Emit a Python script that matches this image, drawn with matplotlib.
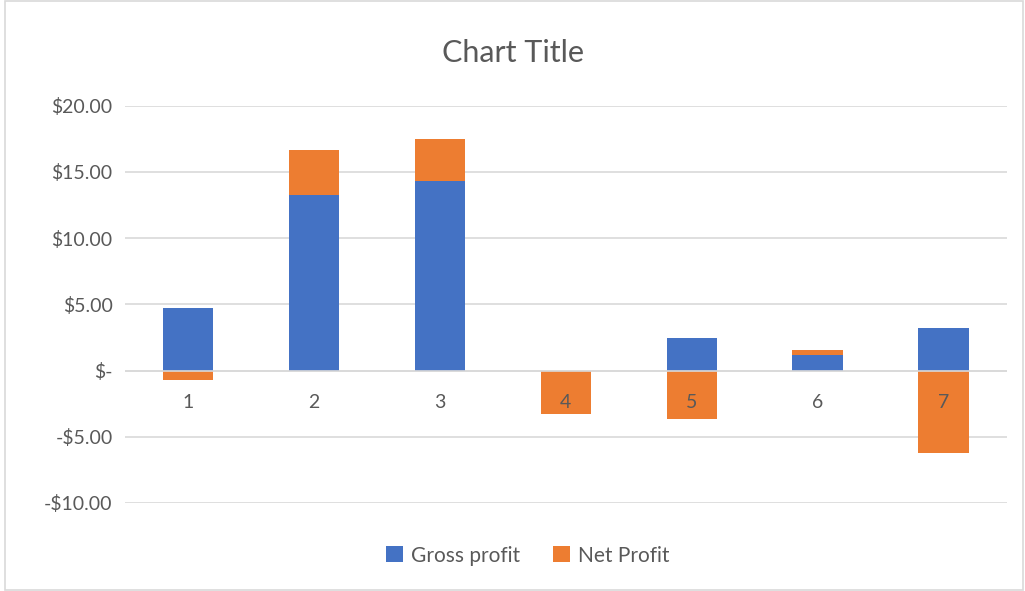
import numpy as np
import matplotlib
matplotlib.use("Agg")
from matplotlib import pyplot as plt
from matplotlib.patches import Rectangle
from matplotlib.ticker import FuncFormatter

categories = ["1", "2", "3", "4", "5", "6", "7"]
gross_profit = [4.75, 13.25, 14.3, 0.0, 2.45, 1.15, 3.25]
net_profit = [-0.75, 3.4, 3.2, -3.25, -3.65, 0.38, -6.2]

blue = "#4472C4"
orange = "#ED7D31"
grey_text = "#595959"
grid_col = "#D9D9D9"

plt.rcParams['font.family'] = ['Lato', 'DejaVu Sans']

fig = plt.figure(figsize=(10.25, 5.91), dpi=100)
ax = fig.add_axes([0.122, 0.149, 0.860, 0.672])

x = np.arange(len(categories))
gross = np.array(gross_profit)
net = np.array(net_profit)

# excel style stacking: positives on positives, negatives on negatives
pos_base = np.where(gross > 0, gross, 0)
neg_base = np.where(gross < 0, gross, 0)
net_bottom = np.where(net >= 0, pos_base, neg_base)

ax.bar(x, gross, width=0.4, color=blue, label="Gross profit", zorder=2)
ax.bar(x, net, width=0.4, bottom=net_bottom, color=orange, label="Net Profit", zorder=2)

ax.set_xlim(-0.5, len(categories) - 0.5)
ax.set_ylim(-10, 20)
ax.set_yticks(np.arange(-10, 21, 5))

def money(v, pos):
    if abs(v) < 1e-9:
        return "$-"
    if v < 0:
        return "-${:,.2f}".format(-v)
    return "${:,.2f}".format(v)

ax.yaxis.set_major_formatter(FuncFormatter(money))
ax.tick_params(axis='y', length=0, labelsize=14, labelcolor=grey_text, pad=9)
ax.set_xticks([])
ax.grid(axis='y', color=grid_col, linewidth=1.2, zorder=0)
ax.set_axisbelow(True)
ax.axhline(0, color=grid_col, linewidth=1.2, zorder=3)
for s in ax.spines.values():
    s.set_visible(False)

# category labels sit just under the zero line, on top of the bars
for xi, lab in zip(x, categories):
    ax.annotate(lab, (xi, 0), xytext=(0, -23), textcoords='offset points',
                ha='center', va='center', fontsize=14, color=grey_text, zorder=4)

fig.text(0.5, 0.91, "Chart Title", ha='center', va='center', fontsize=22, color=grey_text)

leg = fig.legend(loc='center', bbox_to_anchor=(0.515, 0.06), ncol=2, frameon=False,
                 fontsize=15, handlelength=0.8, handleheight=0.8, columnspacing=1.6,
                 handletextpad=0.4)
for t in leg.get_texts():
    t.set_color(grey_text)

fig.patches.append(Rectangle((0.005, 0.002), 0.993, 0.996, transform=fig.transFigure,
                             fill=False, edgecolor=grid_col, linewidth=1.2))

fig.savefig("out.png", dpi=100)
